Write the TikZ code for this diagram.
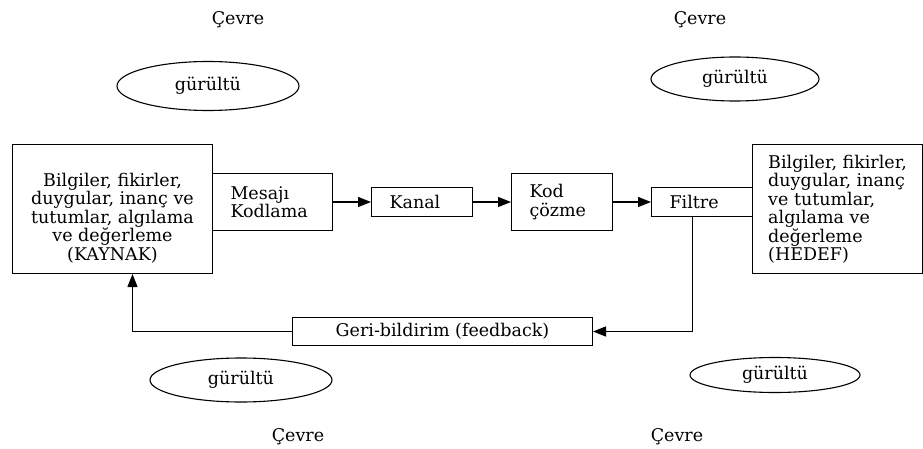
\documentclass[tikz,border=0pt]{standalone}
\usepackage{fontspec}
\setmainfont{DejaVu Serif}
\usetikzlibrary{arrows.meta,shapes.geometric}
\tikzset{
    every node/.style={font=\fontsize{17.5}{18.5}\selectfont},
    box/.style={draw,rectangle,line width=1pt,anchor=north west},
    noise/.style={draw,ellipse,line width=1.1pt,inner sep=0pt},
    flow/.style={line width=1.2pt,-{Triangle[length=13pt,width=10pt]}}
}
\begin{document}
\begin{tikzpicture}[x=1pt,y=-1pt]
        \useasboundingbox (0,0) rectangle (923,449);
        %% Environment and noise
        \node (cevreA) at (238,20) {Çevre};
        \node (cevreB) at (700,20) {Çevre};
        \node (cevreC) at (298,437) {Çevre};
        \node (cevreD) at (677,437) {Çevre};
        \node[noise,minimum width=182,minimum height=49] (noiseA) at (208,86) {gürültü};
        \node[noise,minimum width=168,minimum height=44] (noiseB) at (735,79) {gürültü};
        \node[noise,minimum width=182,minimum height=44] (noiseC) at (241,380) {gürültü};
        \node[noise,minimum width=170,minimum height=35] (noiseD) at (775,375) {gürültü};
        %% Source and target
        \node[box,minimum width=200,minimum height=129,align=center,text height=105pt]
            (kaynak) at (12,144) {Bilgiler, fikirler,\\ duygular, inanç ve\\
            tutumlar, algılama\\ ve değerleme\\ (KAYNAK)};
        \node[box,minimum width=170,minimum height=129,align=left]
            (hedef) at (752,144) {Bilgiler, fikirler,\\ duygular, inanç\\
            ve tutumlar,\\ algılama ve\\ değerleme\\ (HEDEF)};
        %% Chain
        \node[box,inner xsep=18pt,text width=84,minimum height=57,align=left]
            (mesaj) at (212,173) {Mesajı\\ Kodlama};
        \node[box,inner xsep=18pt,text width=65,minimum height=29,align=left]
            (kanal) at (371,187) {Kanal};
        \node[box,inner xsep=18pt,text width=65,minimum height=57,align=left]
            (kod) at (511,173) {Kod\\ çözme};
        \node[box,inner xsep=18pt,text width=65,minimum height=29,align=left]
            (filtre) at (651,187) {Filtre};
        \node[box,minimum width=300,minimum height=28]
            (geri) at (292,317) {Geri-bildirim (feedback)};
        %% Arrows
        \draw[flow] (mesaj.east) -- (kanal.west);
        \draw[flow] (kanal.east) -- (kod.west);
        \draw[flow] (kod.east) -- (filtre.west);
        \draw[flow] ([xshift=-9.5pt]filtre.south) |- (geri.east);
        \draw[flow] (geri.west) -| ([xshift=20pt]kaynak.south);
    \end{tikzpicture}
\end{document}
